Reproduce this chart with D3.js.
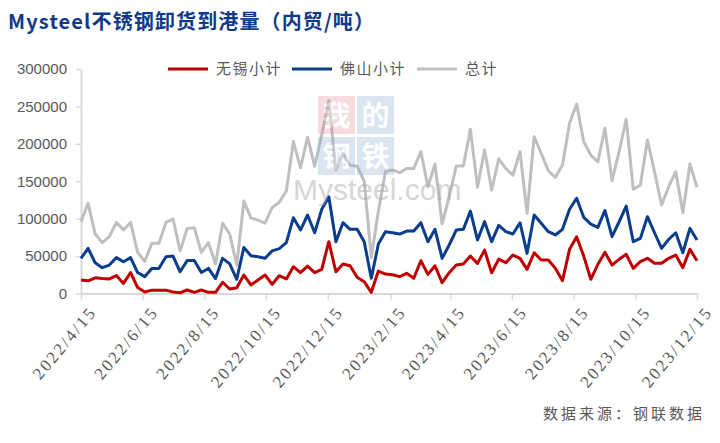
<!DOCTYPE html>
<html>
<head>
<meta charset="utf-8">
<script src="https://cdn.jsdelivr.net/npm/d3@7"></script>
<style>
  body { margin: 0; background: #fff; }
  svg { display: block; }
</style>
</head>
<body>
<div id="chart"></div>
<script>
// weekly data, first week 2022/4/15
var startDate = "2022/4/15";
var weekCount = 88;

var tickLabels = ["2022/4/15", "2022/6/15", "2022/8/15", "2022/10/15", "2022/12/15",
  "2023/2/15", "2023/4/15", "2023/6/15", "2023/8/15", "2023/10/15", "2023/12/15"];
var yTicks = [0, 50000, 100000, 150000, 200000, 250000, 300000];

var seriesNames = ["无锡小计", "佛山小计", "总计"];

var wuxi = [18000, 17000, 21000, 20000, 19500, 24000, 13500, 28000, 8000, 2000,
  4500, 4500, 4500, 2000, 1000, 4700, 1600, 4700, 1600, 1600,
  15000, 6000, 7800, 24700, 11400, 18000, 24700, 12300, 23800, 19400,
  35800, 27800, 36700, 27800, 32300, 69200, 29100, 39400, 37100, 21600,
  15800, 1600, 30000, 26000, 25000, 22500, 27000, 20300, 43800, 25600,
  37100, 14400, 27800, 38000, 39400, 50000, 40300, 58000, 27800, 46000,
  41200, 51400, 47000, 32300, 54500, 44700, 44700, 33600, 17100, 59000,
  75900, 50000, 19000, 39000, 55000, 38000, 45700, 52400, 33600, 42500,
  47000, 40300, 40300, 47000, 51400, 34500, 59000, 43800];

var foshan = [47000, 60400, 41000, 34500, 38000, 48000, 42500, 48000, 28000, 22500,
  33500, 33500, 49000, 50000, 29000, 44000, 44000, 28000, 33500, 20000,
  47000, 39500, 19000, 61500, 50500, 49000, 47000, 57000, 60000, 68000,
  101300, 84800, 104900, 81200, 112500, 129300, 69200, 94600, 85700, 85700,
  69200, 20300, 66100, 82600, 81200, 79500, 83500, 83500, 94600, 69200,
  85700, 47000, 64800, 84800, 85700, 110200, 71500, 96000, 69200, 91000,
  82600, 79500, 94600, 53700, 104900, 93800, 82600, 78200, 85700, 112500,
  127200, 101800, 92800, 88400, 111000, 75900, 95900, 116900, 69200, 73700,
  102600, 81200, 60400, 72400, 81200, 54500, 87100, 71500];

var total = [96000, 120500, 79500, 68000, 76000, 95000, 85000, 95000, 55000, 43000,
  67000, 67000, 95000, 99500, 57000, 87000, 88000, 55000, 68000, 39500,
  94000, 79500, 38000, 123500, 101000, 98000, 94000, 115000, 122000, 137000,
  203000, 168000, 209000, 170000, 212000, 258000, 165000, 187000, 171500, 170000,
  150000, 48000, 110000, 163000, 165000, 161400, 167000, 167000, 189500, 142700,
  173000, 92800, 129300, 170300, 170300, 219300, 141900, 191700, 138300, 180000,
  167000, 158000, 189500, 107000, 209500, 187300, 164000, 155200, 171700, 227400,
  253200, 202800, 185000, 176100, 221000, 150800, 189500, 232700, 139200, 145000,
  205000, 162700, 118200, 142700, 162700, 108000, 173000, 141900];

var colors = ["#C00000", "#0A3D8C", "#BFBFBF"];

var width = 720, height = 443;
var margin = {top: 69, right: 23, bottom: 149.5, left: 81};

var parse = d3.timeParse("%Y/%m/%d");
var fmt = d3.timeFormat("%Y/%-m/%-d");
var dates = d3.range(weekCount).map(function(i) {
  return d3.timeDay.offset(parse(startDate), i * 7);
});

var svg = d3.select("#chart").append("svg")
  .attr("width", width)
  .attr("height", height)
  .style("font-family", "'Noto Sans CJK SC', sans-serif");

svg.append("rect").attr("width", width).attr("height", height).attr("fill", "#fff");

var x = d3.scaleTime()
  .domain([parse(tickLabels[0]), parse(tickLabels[tickLabels.length - 1])])
  .range([margin.left, width - margin.right]);
var y = d3.scaleLinear()
  .domain([0, 300000])
  .range([height - margin.bottom, margin.top]);

// title
svg.append("text")
  .attr("x", 8).attr("y", 29)
  .attr("fill", "#0F3A8A")
  .attr("textLength", 366)
  .attr("lengthAdjust", "spacing")
  .style("font-size", "20px")
  .style("font-weight", "bold")
  .text("Mysteel不锈钢卸货到港量（内贸/吨）");

// y axis
var yAxis = svg.append("g")
  .attr("transform", "translate(" + margin.left + ",0)")
  .call(d3.axisLeft(y).tickValues(yTicks).tickSize(5).tickSizeOuter(0).tickPadding(9)
    .tickFormat(function(d) { return d; }));
yAxis.select(".domain").attr("stroke", "#D9D9D9").attr("stroke-width", 2);
yAxis.selectAll(".tick line").attr("stroke", "#D9D9D9").attr("stroke-width", 1.5);
yAxis.selectAll(".tick text")
  .attr("fill", "#595959")
  .style("font-family", "'Liberation Sans', sans-serif")
  .style("font-size", "15px");

// x axis
var xAxis = svg.append("g")
  .attr("transform", "translate(0," + y(0) + ")")
  .call(d3.axisBottom(x).tickValues(tickLabels.map(parse)).tickSize(6).tickSizeOuter(0)
    .tickFormat(fmt));
xAxis.select(".domain").attr("stroke", "#D9D9D9").attr("stroke-width", 2);
xAxis.selectAll(".tick line").attr("stroke", "#D9D9D9").attr("stroke-width", 1.5);
xAxis.selectAll(".tick text")
  .attr("fill", "#595959")
  .style("font-family", "'Liberation Serif', serif")
  .style("font-size", "17px")
  .style("letter-spacing", "2.2px")
  .attr("text-anchor", "end")
  .attr("dx", 0).attr("dy", "0.3em")
  .attr("transform", "translate(5,10) rotate(-50)");

// lines
var seriesData = [wuxi, foshan, total];
var line = d3.line()
  .x(function(d, i) { return x(dates[i]); })
  .y(function(d) { return y(d); });

[2, 1, 0].forEach(function(k) {
  svg.append("path")
    .datum(seriesData[k])
    .attr("fill", "none")
    .attr("stroke", colors[k])
    .attr("stroke-width", 3)
    .attr("stroke-linejoin", "round")
    .attr("d", line);
});

// watermark
var wm = svg.append("g").attr("opacity", 0.32);
var boxes = [[318, 96, "#E8909C", "我"], [357, 96, "#8FB0D6", "的"],
             [318, 137, "#8FB0D6", "钢"], [357, 137, "#8FB0D6", "铁"]];
boxes.forEach(function(b) {
  wm.append("rect").attr("x", b[0]).attr("y", b[1]).attr("width", 37).attr("height", 38)
    .attr("fill", b[2]);
});
boxes.forEach(function(b) {
  wm.append("text").attr("x", b[0] + 18.5).attr("y", b[1] + 30)
    .attr("text-anchor", "middle").attr("fill", "#fff")
    .style("font-size", "28px").style("font-weight", "bold").text(b[3]);
});
svg.append("text").attr("x", 293).attr("y", 200)
  .attr("fill", "#A6A6A6").attr("opacity", 0.45)
  .style("font-family", "'Liberation Sans', sans-serif")
  .style("font-size", "30px")
  .text("Mysteel.com");

// legend
var legendX = [168, 292, 417];
var legend = svg.selectAll(".legend")
  .data(seriesNames)
  .enter().append("g")
  .attr("class", "legend")
  .attr("transform", function(d, i) { return "translate(" + legendX[i] + "," + y(300000) + ")"; });
legend.append("line")
  .attr("x1", 0).attr("x2", 40)
  .attr("stroke", function(d, i) { return colors[i]; })
  .attr("stroke-width", 3);
legend.append("text")
  .attr("x", 48).attr("dy", "0.35em")
  .attr("fill", "#595959")
  .style("font-size", "15px")
  .style("letter-spacing", "1.5px")
  .text(function(d) { return d; });

// source
svg.append("text")
  .attr("x", 705).attr("y", 419)
  .attr("text-anchor", "end")
  .attr("fill", "#595959")
  .style("font-size", "15px")
  .style("letter-spacing", "3px")
  .text("数据来源：钢联数据");
</script>
</body>
</html>
